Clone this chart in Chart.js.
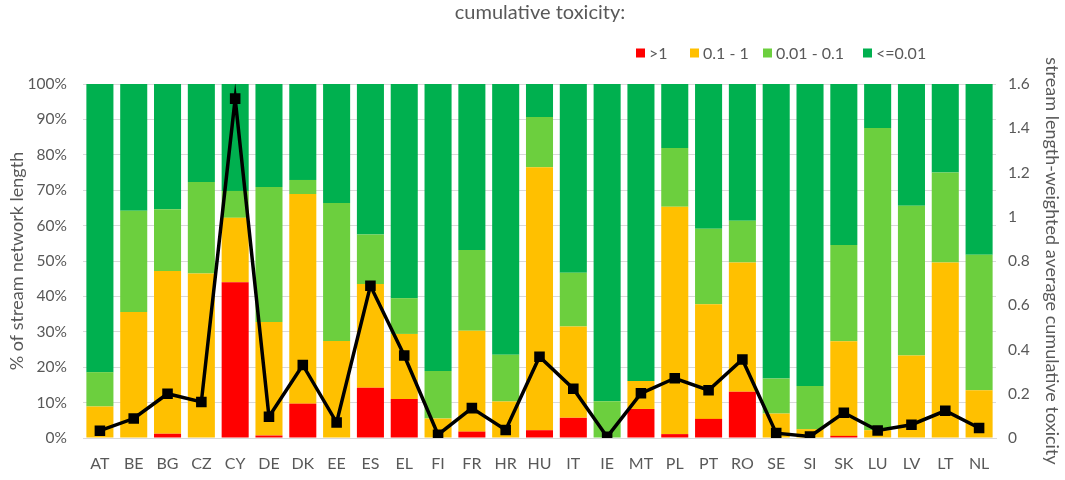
<!DOCTYPE html>
<html>
<head>
<meta charset="utf-8">
<script src="https://cdn.jsdelivr.net/npm/chart.js@4"></script>
<style>
html,body{margin:0;padding:0;background:#fff;}
#wrap{position:relative;width:1065px;height:480px;}
</style>
</head>
<body>
<div id="wrap"><canvas id="c" width="1065" height="480"></canvas></div>
<script>
const categories = ["AT","BE","BG","CZ","CY","DE","DK","EE","ES","EL","FI","FR","HR","HU","IT","IE","MT","PL","PT","RO","SE","SI","SK","LU","LV","LT","NL"];
// share of stream length (%) per toxicity class
const over1      = [0, 0, 1.2, 0, 44.0, 0.7, 9.7, 0, 14.2, 11.0, 0, 1.8, 0, 2.2, 5.7, 0, 8.2, 1.1, 5.4, 13.1, 0, 0, 0.6, 0, 0, 0, 0];
const from01to1  = [8.9, 35.6, 46.0, 46.5, 18.2, 32.1, 59.2, 27.4, 29.3, 18.4, 5.5, 28.5, 10.3, 74.3, 25.8, 0, 7.9, 64.2, 32.4, 36.5, 6.9, 2.5, 26.7, 2.2, 23.3, 49.6, 13.5];
const from001to01= [9.7, 28.6, 17.4, 25.8, 7.6, 38.1, 4.0, 39.0, 14.0, 10.1, 13.4, 22.8, 13.2, 14.2, 15.2, 10.4, 0, 16.6, 21.3, 11.8, 9.9, 12.2, 27.2, 85.4, 42.3, 25.4, 38.3];
const upTo001    = [81.4, 35.8, 35.4, 27.7, 30.2, 29.1, 27.1, 33.6, 42.5, 60.5, 81.1, 46.9, 76.5, 9.3, 53.3, 89.6, 83.9, 18.1, 40.9, 38.6, 83.2, 85.3, 45.5, 12.4, 34.4, 25.0, 48.2];
// stream length-weighted average cumulative toxicity
const avgTox     = [0.033, 0.088, 0.20, 0.163, 1.534, 0.096, 0.33, 0.07, 0.688, 0.373, 0.015, 0.135, 0.036, 0.367, 0.223, 0.005, 0.202, 0.27, 0.216, 0.355, 0.022, 0.007, 0.114, 0.034, 0.06, 0.123, 0.045];
const classLabels = [">1", "0.1 - 1", "0.01 - 0.1", "<=0.01"];
const leftTicks = [0,10,20,30,40,50,60,70,80,90,100];

const colors = ["#ff0000", "#ffc000", "#6ccf3e", "#00b04f"];
const TXT = "#595959";
const FONT = "Lato";

const legendPlugin = {
  id: 'customLegend',
  afterDraw(chart) {
    const ctx = chart.ctx;
    ctx.save();
    ctx.font = "16px " + FONT;
    ctx.textBaseline = "middle";
    ctx.fillStyle = TXT;
    const y = 53;
    const starts = [636, 690, 763, 863];
    chart.data.datasets.filter(d => d.type !== 'line').forEach((d, i) => {
      const x = starts[i];
      ctx.fillStyle = d.backgroundColor;
      ctx.fillRect(x, y - 4.5, 9, 9);
      ctx.fillStyle = TXT;
      ctx.fillText(d.label, x + 13, y + 1);
    });
    ctx.restore();
  }
};

new Chart(document.getElementById('c'), {
  data: {
    labels: categories,
    datasets: [
      { type: 'line', label: 'average', data: avgTox, yAxisID: 'y1', borderColor: '#000', backgroundColor: '#000', borderWidth: 3.5, pointStyle: 'rect', pointRadius: 5, pointHoverRadius: 5, tension: 0, order: 0 },
      { type: 'bar', label: classLabels[0], data: over1, backgroundColor: colors[0], stack: 's', order: 1 },
      { type: 'bar', label: classLabels[1], data: from01to1, backgroundColor: colors[1], stack: 's', order: 1 },
      { type: 'bar', label: classLabels[2], data: from001to01, backgroundColor: colors[2], stack: 's', order: 1 },
      { type: 'bar', label: classLabels[3], data: upTo001, backgroundColor: colors[3], stack: 's', order: 1 }
    ]
  },
  options: {
    responsive: false,
    animation: false,
    devicePixelRatio: 1,
    datasets: { bar: { barPercentage: 0.8, categoryPercentage: 1.0 } },
    layout: { padding: { top: 84, left: 0, right: 0, bottom: 0 } },
    plugins: {
      legend: { display: false },
      tooltip: { enabled: false },
      title: { display: false }
    },
    scales: {
      x: {
        stacked: true,
        offset: true,
        grid: { display: false, drawTicks: false },
        border: { color: '#d9d9d9' },
        ticks: { color: TXT, font: { family: FONT, size: 16 }, padding: 16, maxRotation: 0, autoSkip: false },
        afterFit(s) { s.height = 42; }
      },
      y: {
        stacked: true,
        position: 'left',
        min: 0, max: 100,
        afterBuildTicks(s) { s.ticks = leftTicks.map(v => ({ value: v })); },
        grid: { color: '#d9d9d9', drawTicks: false },
        border: { display: false },
        ticks: { color: TXT, font: { family: FONT, size: 15.5 }, padding: 16, callback: v => v + '%' },
        title: { display: true, text: '% of stream network length', color: TXT, font: { family: FONT, size: 18 }, padding: { top: 6, bottom: 0 } },
        afterFit(s) { s.width = 83; }
      },
      y1: {
        position: 'right',
        min: 0, max: 1.6,
        ticks: { stepSize: 0.2, color: TXT, font: { family: FONT, size: 15.5 }, padding: 12, callback: v => String(Math.round(v * 10) / 10) },
        grid: { drawOnChartArea: false, drawTicks: false },
        border: { display: false },
        title: { display: true, text: 'stream length-weighted average cumulative toxicity', color: TXT, font: { family: FONT, size: 18 }, padding: { top: 2, bottom: 0 } },
        afterFit(s) { s.width = 69; }
      }
    }
  },
  plugins: [legendPlugin, {
    id: 'topTitle',
    afterDraw(chart) {
      const ctx = chart.ctx;
      ctx.save();
      ctx.font = "20px " + FONT;
      ctx.fillStyle = TXT;
      ctx.textAlign = 'center';
      ctx.textBaseline = 'middle';
      ctx.fillText('cumulative toxicity:', 540, 13);
      ctx.restore();
    }
  }]
});
</script>
</body>
</html>
